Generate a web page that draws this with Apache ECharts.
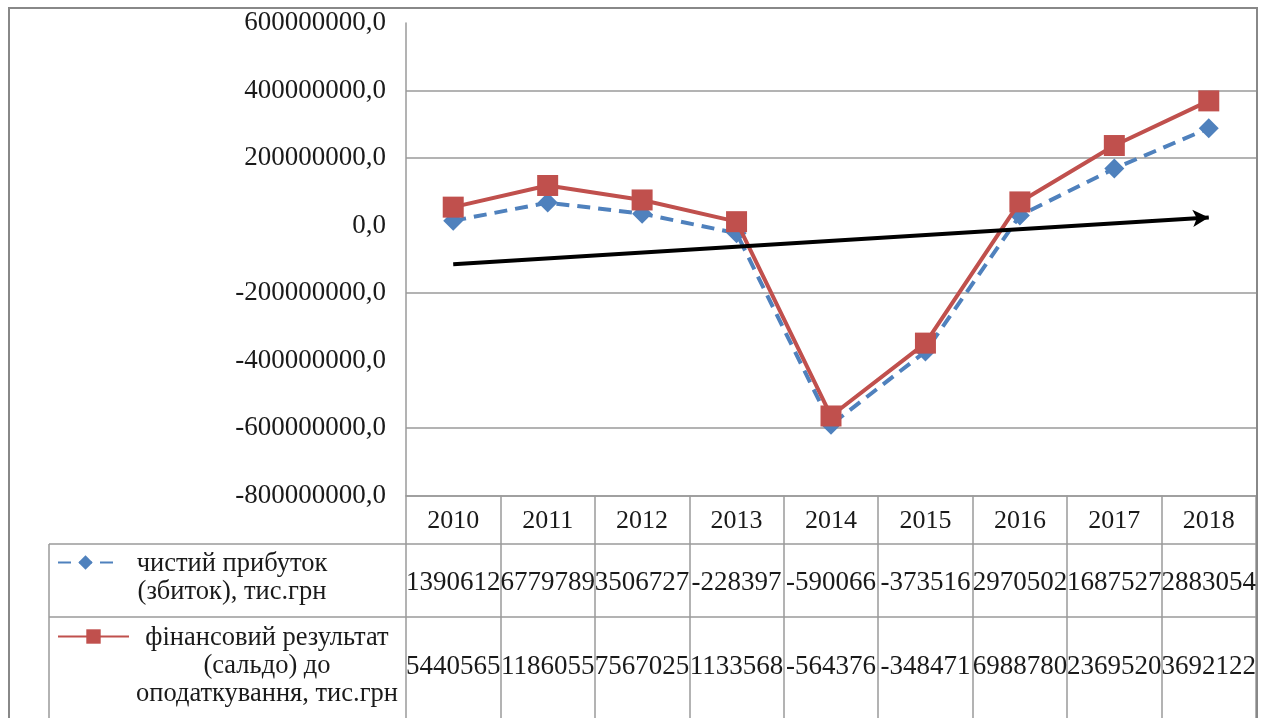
<!DOCTYPE html>
<html>
<head>
<meta charset="utf-8">
<script src="https://cdn.jsdelivr.net/npm/echarts@6/dist/echarts.min.js"></script>
<style>
html,body{margin:0;padding:0;background:#fff;}
#c{width:1268px;height:718px;}
</style>
</head>
<body>
<div id="c"></div>
<script>
// ---- data ----
const years = ['2010','2011','2012','2013','2014','2015','2016','2017','2018'];
const netProfit = [13906129, 67797893, 35067270, -22839700, -590066000, -373516000, 29705020, 168752700, 288305400];
const preTaxResult = [54405650, 118605500, 75670250, 11335680, -564376000, -348471000, 69887800, 236952000, 369212200];
const trendEnds = [-115000000, 24000000];
const seriesNames = ['чистий прибуток (збиток), тис.грн', 'фінансовий результат (сальдо) до оподаткування, тис.грн'];
const legendLines = [
  ['чистий прибуток', '(збиток), тис.грн'],
  ['фінансовий результат', '(сальдо) до', 'оподаткування, тис.грн']
];
const yMin = -800000000, yMax = 600000000, yStep = 200000000;

const FONT = 'Liberation Serif';
const TXT = '#1a1a1a';
const GRID = '#9a9a9a';
const cell = v => String(Math.round(v)).slice(0, 7);

const chart = echarts.init(document.getElementById('c'), null, {renderer: 'canvas'});
const gridColors = [GRID, GRID, 'rgba(0,0,0,0)', GRID, 'rgba(0,0,0,0)', GRID, GRID, 'rgba(0,0,0,0)'];

function legendText(lines) {
  const pad = [];
  for (let i = 1; i < lines.length; i++) pad.push('{e| }');
  return pad.concat(lines.map(l => '{t|' + l + '}')).join('\n');
}
const richBase = w => ({
  t: {fontFamily: FONT, fontSize: 26.5, color: TXT, width: w, align: 'center', lineHeight: 28, padding: [3, 0, 0, 0]},
  e: {fontFamily: FONT, fontSize: 26.5, lineHeight: 28}
});

chart.setOption({
  backgroundColor: '#fff',
  animation: false,
  grid: {left: 406, right: 12, top: 23, bottom: 222.5, containLabel: false},
  legend: [
    {
      data: [seriesNames[0]], left: 57, top: 563 - 42, orient: 'vertical', padding: 0,
      itemWidth: 55, itemHeight: 18, itemGap: 0,
      formatter: () => legendText(legendLines[0]),
      textStyle: {fontFamily: FONT, fontSize: 26.5, color: TXT, rich: richBase(228)}
    },
    {
      data: [seriesNames[1]], left: 57, top: 637 - 70, orient: 'vertical', padding: 0,
      itemWidth: 71, itemHeight: 18, itemGap: 0,
      formatter: () => legendText(legendLines[1]),
      textStyle: {fontFamily: FONT, fontSize: 26.5, color: TXT, rich: richBase(266)}
    }
  ],
  xAxis: [
    {
      type: 'category', data: years, position: 'bottom',
      axisLine: {show: true, onZero: false, lineStyle: {color: GRID, width: 1.5}},
      axisTick: {show: true, length: 224, lineStyle: {color: GRID, width: 1.5}},
      axisLabel: {interval: 0, margin: 13, fontFamily: FONT, fontSize: 26, color: TXT},
      splitLine: {show: false}
    },
    {
      type: 'category', data: years, position: 'bottom',
      axisLine: {show: false, onZero: false}, axisTick: {show: false},
      axisLabel: {interval: 0, margin: 74, fontFamily: FONT, fontSize: 27, color: TXT,
        formatter: (v, i) => cell(netProfit[i])}
    },
    {
      type: 'category', data: years, position: 'bottom',
      axisLine: {show: false, onZero: false}, axisTick: {show: false},
      axisLabel: {interval: 0, margin: 158, fontFamily: FONT, fontSize: 27, color: TXT,
        formatter: (v, i) => cell(preTaxResult[i])}
    }
  ],
  yAxis: {
    type: 'value', min: yMin, max: yMax, interval: yStep,
    axisLine: {show: true, lineStyle: {color: GRID, width: 1.5}},
    axisTick: {show: false},
    axisLabel: {margin: 20, fontFamily: FONT, fontSize: 27, color: TXT,
      formatter: v => v.toFixed(1).replace('.', ',')},
    splitLine: {show: true, lineStyle: {color: gridColors, width: 1.5}}
  },
  series: [
    {
      name: seriesNames[0], type: 'line', data: netProfit, xAxisIndex: 0,
      symbol: 'diamond', symbolSize: 20,
      itemStyle: {color: '#4F81BD'},
      lineStyle: {color: '#4F81BD', width: 4, type: [13, 8]},
      z: 3,
      markLine: {
        silent: true, symbol: ['none', 'arrow'], symbolSize: [13, 16],
        label: {show: false},
        lineStyle: {color: '#000', width: 4, type: 'solid'},
        data: [[{coord: [years[0], trendEnds[0]]}, {coord: [years[years.length - 1], trendEnds[1]]}]]
      }
    },
    {
      name: seriesNames[1], type: 'line', data: preTaxResult, xAxisIndex: 0,
      symbol: 'rect', symbolSize: 21,
      itemStyle: {color: '#C0504D'},
      lineStyle: {color: '#C0504D', width: 4},
      z: 4
    }
  ],
  graphic: [
    {type: 'rect', shape: {x: 9, y: 8, width: 1248, height: 720}, style: {fill: 'none', stroke: '#888', lineWidth: 2}, z: 100},
    {type: 'line', shape: {x1: 49, y1: 544, x2: 1256, y2: 544}, style: {stroke: GRID, lineWidth: 1.5}},
    {type: 'line', shape: {x1: 49, y1: 617, x2: 1256, y2: 617}, style: {stroke: GRID, lineWidth: 1.5}},
    {type: 'line', shape: {x1: 49, y1: 544, x2: 49, y2: 720}, style: {stroke: GRID, lineWidth: 1.5}}
  ]
});
</script>
</body>
</html>
